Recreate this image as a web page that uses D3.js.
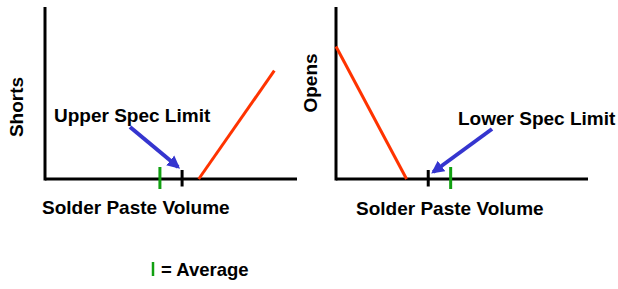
<!DOCTYPE html>
<html lang="en">
<head>
  <meta charset="UTF-8">
  <title>Solder Paste Volume</title>
  <style>
    body { margin: 0; background: #fff; }
    text { font-family: "Liberation Sans", Arial, Helvetica, sans-serif; font-weight: bold; fill: #000; }
  </style>
</head>
<body>
<script src="https://d3js.org/d3.v7.min.js"></script>
<script>
  // data, on a 0-100 scale for both axes
  const shortsLine = [[61, 0], [91, 63]]
  const opensLine = [[0, 77], [28, 0]]
  const upperSpec = 54.4
  const lowerSpec = 36.6
  const avgShorts = 45.6
  const avgOpens = 45.5
  const panelTitles = ['Shorts', 'Opens']
  const specLabels = ['Upper Spec Limit', 'Lower Spec Limit']
  const xLabel = 'Solder Paste Volume'
  const legendLabel = '= Average'

  const width = 618
  const height = 289
  const red = '#ff3300'
  const green = '#11a011'
  const blue = '#3535cf'

  const svg = d3.select('body')
    .append('svg')
    .attr('width', width)
    .attr('height', height)

  svg.append('defs')
    .append('marker')
    .attr('id', 'head')
    .attr('viewBox', '0 0 10 10')
    .attr('refX', 8)
    .attr('refY', 5)
    .attr('markerWidth', 3.2)
    .attr('markerHeight', 3.4)
    .attr('orient', 'auto')
    .append('path')
    .attr('d', 'M0,0 L10,5 L0,10 Z')
    .attr('fill', blue)

  const panels = [
    { left: 45, title: panelTitles[0], titleX: 23, titleY: 107, line: shortsLine, spec: upperSpec, avg: avgShorts,
      label: specLabels[0], labelX: 54, labelY: 121.5, arrowFrom: [130, 127], arrowDx: -4, arrowY: 167, xLabelX: 42, xLabelY: 214 },
    { left: 336, title: panelTitles[1], titleX: 317, titleY: 83, line: opensLine, spec: lowerSpec, avg: avgOpens,
      label: specLabels[1], labelX: 458, labelY: 125, arrowFrom: [492, 129], arrowDx: 5, arrowY: 172, xLabelX: 356, xLabelY: 215 }
  ]

  panels.forEach(p => {
    const x = d3.scaleLinear().domain([0, 100]).range([p.left, p.left + 252])
    const y = d3.scaleLinear().domain([0, 100]).range([179, 7])
    const g = svg.append('g')

    // axes
    g.append('line')
      .attr('x1', x(0)).attr('x2', x(0))
      .attr('y1', y(0) + 1.5).attr('y2', y(100))
      .attr('stroke', '#000').attr('stroke-width', 3)
    g.append('line')
      .attr('x1', x(0)).attr('x2', x(100))
      .attr('y1', y(0)).attr('y2', y(0))
      .attr('stroke', '#000').attr('stroke-width', 3)

    // defect curve
    g.append('path')
      .attr('d', d3.line().x(d => x(d[0])).y(d => y(d[1]))(p.line))
      .attr('fill', 'none')
      .attr('stroke', red)
      .attr('stroke-width', 3)

    // average tick
    g.append('line')
      .attr('x1', x(p.avg)).attr('x2', x(p.avg))
      .attr('y1', y(0) - 12).attr('y2', y(0) + 10)
      .attr('stroke', green).attr('stroke-width', 3)

    // spec limit tick
    g.append('line')
      .attr('x1', x(p.spec)).attr('x2', x(p.spec))
      .attr('y1', y(0) - 9).attr('y2', y(0) + 7.5)
      .attr('stroke', '#000').attr('stroke-width', 3)

    // arrow to spec limit
    g.append('line')
      .attr('x1', p.arrowFrom[0]).attr('y1', p.arrowFrom[1])
      .attr('x2', x(p.spec) + p.arrowDx).attr('y2', p.arrowY)
      .attr('stroke', blue).attr('stroke-width', 4)
      .attr('marker-end', 'url(#head)')

    g.append('text')
      .attr('x', p.labelX).attr('y', p.labelY)
      .attr('font-size', 19)
      .text(p.label)

    g.append('text')
      .attr('transform', `translate(${p.titleX},${p.titleY}) rotate(-90)`)
      .attr('text-anchor', 'middle')
      .attr('font-size', 19)
      .text(p.title)

    g.append('text')
      .attr('x', p.xLabelX).attr('y', p.xLabelY)
      .attr('font-size', 19)
      .text(xLabel)
  })

  // legend
  svg.append('line')
    .attr('x1', 153).attr('x2', 153)
    .attr('y1', 262).attr('y2', 276)
    .attr('stroke', green).attr('stroke-width', 2.5)
  svg.append('text')
    .attr('x', 161).attr('y', 275.5)
    .attr('font-size', 18.5)
    .text(legendLabel)
</script>
</body>
</html>
